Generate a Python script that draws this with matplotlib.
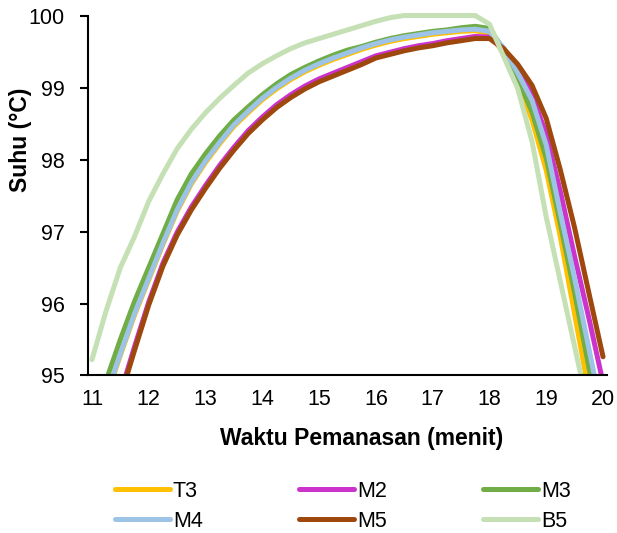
import matplotlib
matplotlib.use("Agg")
import matplotlib.pyplot as plt

plt.rcParams["font.family"] = ["Liberation Sans", "DejaVu Sans"]

# heating time (minutes)
time = [11.00, 11.25, 11.50, 11.75, 12.00, 12.25, 12.50, 12.75, 13.00, 13.25,
        13.50, 13.75, 14.00, 14.25, 14.50, 14.75, 15.00, 15.25, 15.50, 15.75,
        16.00, 16.25, 16.50, 16.75, 17.00, 17.25, 17.50, 17.75, 18.00, 18.25,
        18.50, 18.75, 19.00, 19.25, 19.50, 19.75, 20.00]

# temperature (°C) for each sample
T3 = [94.0, 94.70, 95.28, 95.84, 96.33, 96.82, 97.28, 97.66, 97.96, 98.22,
      98.46, 98.65, 98.83, 98.98, 99.11, 99.22, 99.31, 99.39, 99.46, 99.53,
      99.59, 99.64, 99.68, 99.71, 99.74, 99.76, 99.78, 99.79, 99.75, 99.48,
      99.05, 98.55, 97.85, 96.92, 95.85, 94.78, 93.70]
M2 = [93.45, 94.10, 94.75, 95.40, 96.02, 96.56, 96.99, 97.34, 97.64, 97.92,
      98.17, 98.40, 98.59, 98.76, 98.90, 99.02, 99.12, 99.20, 99.28, 99.36,
      99.44, 99.49, 99.54, 99.58, 99.61, 99.65, 99.68, 99.71, 99.70, 99.52,
      99.25, 98.90, 98.35, 97.55, 96.65, 95.80, 94.90]
M3 = [94.30, 94.93, 95.50, 96.03, 96.50, 96.97, 97.44, 97.80, 98.08, 98.33,
      98.55, 98.73, 98.90, 99.05, 99.18, 99.28, 99.37, 99.45, 99.52, 99.57,
      99.63, 99.68, 99.72, 99.75, 99.78, 99.80, 99.83, 99.85, 99.82, 99.52,
      99.12, 98.66, 98.02, 97.10, 96.15, 95.12, 94.10]
M4 = [94.10, 94.72, 95.30, 95.86, 96.35, 96.84, 97.30, 97.68, 97.98, 98.24,
      98.48, 98.67, 98.85, 99.00, 99.13, 99.24, 99.33, 99.41, 99.48, 99.55,
      99.61, 99.66, 99.70, 99.73, 99.76, 99.78, 99.80, 99.81, 99.78, 99.55,
      99.20, 98.82, 98.20, 97.25, 96.35, 95.38, 94.40]
M5 = [93.40, 94.05, 94.70, 95.35, 95.98, 96.52, 96.95, 97.30, 97.60, 97.88,
      98.13, 98.36, 98.55, 98.72, 98.86, 98.98, 99.08, 99.16, 99.24, 99.32,
      99.41, 99.46, 99.51, 99.55, 99.58, 99.62, 99.65, 99.68, 99.68, 99.54,
      99.32, 99.03, 98.57, 97.85, 97.05, 96.15, 95.26]
B5 = [95.22, 95.90, 96.50, 96.93, 97.42, 97.80, 98.15, 98.42, 98.65, 98.85,
      99.03, 99.20, 99.33, 99.44, 99.54, 99.62, 99.68, 99.74, 99.80, 99.86,
      99.92, 99.97, 100.0, 100.0, 100.0, 100.0, 100.0, 100.0, 99.88, 99.43,
      98.98, 98.25, 97.20, 96.30, 95.40, 94.50, 93.60]

series = [("T3", T3, "#FFC000"), ("M2", M2, "#CC33CC"), ("M3", M3, "#70AD47"),
          ("M4", M4, "#9DC3E6"), ("M5", M5, "#9E480E"), ("B5", B5, "#C5E0B4")]

fig = plt.figure(figsize=(6.17, 5.33), dpi=100)
ax = fig.add_axes([0.1426, 0.2955, 0.8412, 0.6835])

lines = {}
for name, vals, col in series:
    ln, = ax.plot(time, vals, color=col, lw=3.6, solid_capstyle="round",
                  solid_joinstyle="round", label=name)
    lines[name] = ln

ax.set_xlim(10.93, 20.07)
ax.set_ylim(95, 100.06)
ax.set_xticks(range(11, 21))
ax.set_yticks(range(95, 101))

for s in ["top", "right"]:
    ax.spines[s].set_visible(False)
for s in ["left", "bottom"]:
    ax.spines[s].set_linewidth(1.5)
    ax.spines[s].set_color("black")
ax.spines["left"].set_bounds(95, 100)

ax.tick_params(axis="x", length=0, pad=10, labelsize=15.5)
ax.tick_params(axis="y", length=5.8, width=1.5, pad=11, labelsize=15.5)

ax.set_xlabel("Waktu Pemanasan (menit)", fontsize=16.5, fontweight="bold")
ax.set_ylabel("Suhu (°C)", fontsize=16.5, fontweight="bold")
ax.xaxis.set_label_coords(0.528, -0.141)
ax.yaxis.set_label_coords(-0.108, 0.647)

# legend is row-major in the reference: reorder for matplotlib's column fill
order = ["T3", "M4", "M2", "M5", "M3", "B5"]
fig.legend([lines[n] for n in order], order, loc="upper left",
           bbox_to_anchor=(0.186, 0.0976), ncol=3, frameon=False,
           fontsize=15.5, handlelength=2.56, handletextpad=0.14,
           columnspacing=4.47, labelspacing=0.4, borderpad=0, borderaxespad=0)

fig.savefig("out.png", dpi=100)
